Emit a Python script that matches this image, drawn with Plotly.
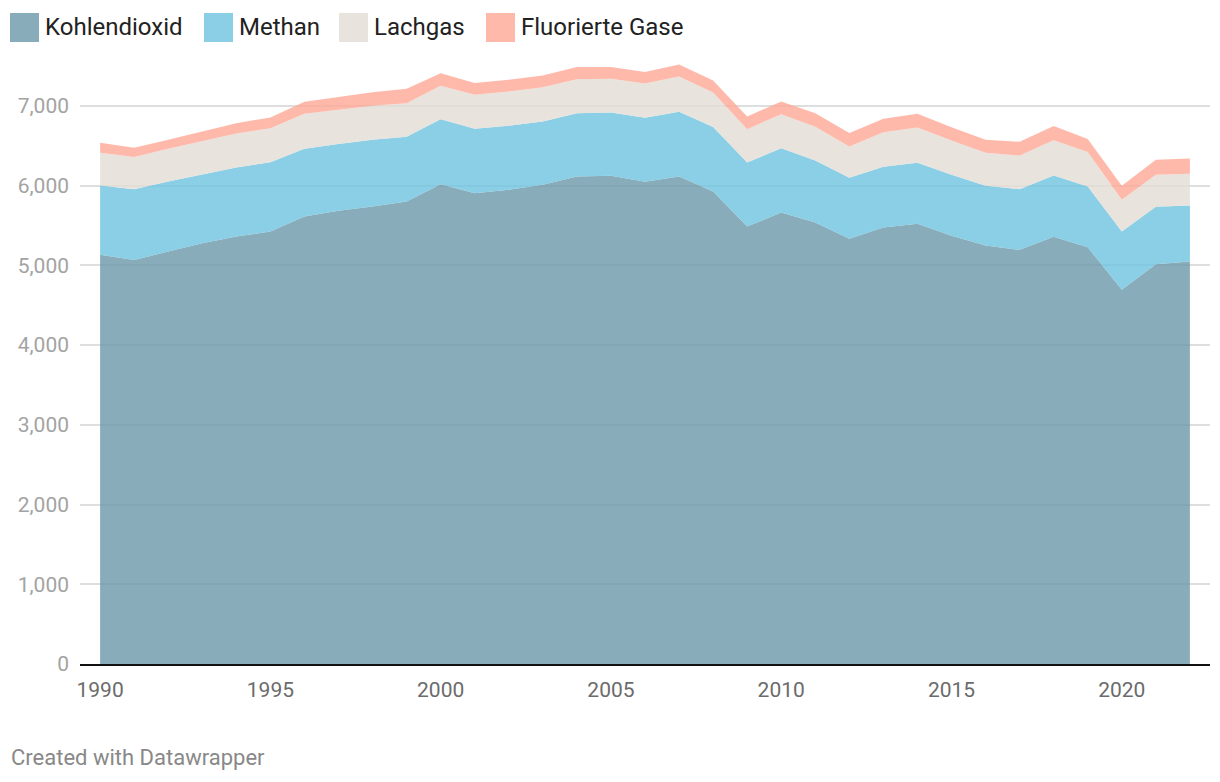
import plotly.graph_objects as go

years = list(range(1990, 2023))

gases = ['Kohlendioxid', 'Methan', 'Lachgas', 'Fluorierte Gase']

kohlendioxid = [5131, 5068, 5173, 5277, 5361, 5424, 5612, 5683, 5737, 5800,
                6018, 5905, 5947, 6009, 6114, 6122, 6047, 6114, 5926, 5486,
                5662, 5537, 5332, 5474, 5520, 5370, 5248, 5194, 5357, 5227,
                4692, 5014, 5048]
methan = [870, 887, 878, 858, 866, 870, 849, 837, 837, 812,
          815, 807, 803, 795, 794, 795, 803, 811, 808, 803,
          807, 778, 765, 761, 765, 765, 749, 761, 769, 761,
          732, 719, 702]
lachgas = [410, 402, 410, 426, 426, 426, 439, 430, 426, 422,
           418, 426, 430, 430, 427, 422, 431, 444, 434, 419,
           427, 422, 393, 435, 443, 430, 414, 422, 444, 432,
           397, 402, 397]
fluorierte = [125, 116, 113, 117, 130, 134, 151, 160, 172, 180,
              159, 147, 147, 147, 151, 147, 142, 150, 151, 158,
              158, 171, 168, 167, 172, 168, 163, 172, 176, 163,
              176, 188, 193]

series = [kohlendioxid, methan, lachgas, fluorierte]
# colours with alpha so the grid shows faintly through the areas
fills = ['rgba(107,151,170,0.8)', 'rgba(109,195,224,0.8)',
         'rgba(226,221,212,0.8)', 'rgba(255,167,149,0.8)']
swatch = ['#89acbb', '#8acfe6', '#e8e4dd', '#feb9aa']

# the page body adds an 8px offset, so the figure is laid out 8px up/left
OFF = 8
W, H = 1220, 782
ML, MR, MT, MB = 80 - OFF, 18, 58 - OFF, 126
pw, ph = W - ML - MR, H - MT - MB


def px(x):
    return (x - OFF - ML) / pw


def py(y):
    return (H - MB - (y - OFF)) / ph


fig = go.Figure()
for name, vals, fc in zip(gases, series, fills):
    fig.add_trace(go.Scatter(
        x=years, y=vals, name=name, stackgroup='one', mode='lines',
        line=dict(width=0), fillcolor=fc, showlegend=False,
        hoverinfo='skip'))

# legend drawn by hand (big square swatches)
leg_x = [10, 204, 339, 486]
for name, col, lx in zip(gases, swatch, leg_x):
    fig.add_shape(type='rect', xref='paper', yref='paper',
                  x0=px(lx), x1=px(lx + 29), y0=py(42), y1=py(13),
                  fillcolor=col, line=dict(width=0))
    fig.add_annotation(text=name, xref='paper', yref='paper',
                       x=px(lx + 33), y=py(27), xanchor='left', yanchor='middle',
                       showarrow=False, font=dict(size=24, color='#222'))

fig.add_annotation(text='Created with Datawrapper', xref='paper', yref='paper',
                   x=px(9), y=py(757), xanchor='left', yanchor='middle',
                   showarrow=False, font=dict(size=22, color='#888'))

fig.update_layout(
    width=W, height=H,
    margin=dict(l=ML, r=MR, t=MT, b=MB),
    paper_bgcolor='white', plot_bgcolor='white',
    font=dict(family='Roboto, sans-serif'),
    showlegend=False,
    xaxis=dict(
        range=[1989.41, 2022.59], tickvals=list(range(1990, 2021, 5)),
        showgrid=False, zeroline=False, showline=True, automargin=False,
        linecolor='#111', linewidth=2, ticks='',
        tickfont=dict(size=21, color='#6b6b6b'), ticklabelstandoff=6),
    yaxis=dict(
        range=[0, 7600], tickvals=list(range(0, 7001, 1000)),
        tickformat=',', showgrid=True, gridcolor='#dedede', gridwidth=1.5,
        zeroline=False, showline=False, ticks='', automargin=False,
        tickfont=dict(size=21, color='#a3a3a3'), ticklabelstandoff=10),
)

fig.write_html('out.html')
